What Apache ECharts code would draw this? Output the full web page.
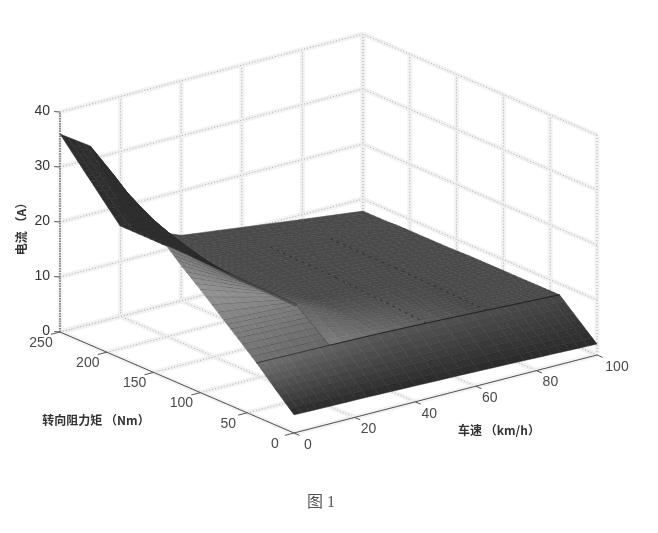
<!DOCTYPE html>
<html><head><meta charset="utf-8">
<style>html,body{margin:0;padding:0;background:#fff}#c{width:658px;height:533px}</style>
<script src="https://cdn.jsdelivr.net/npm/echarts@6/dist/echarts.min.js"></script>
</head><body><div id="c"></div>
<script>
// Data
const speedTicks = [0,20,40,60,80,100];
const torqueTicks = [0,50,100,150,200,250];
const currentTicks = [0,10,20,30,40];
const speeds  = [0,10,24,40,56,76,88,100];
const torques = [0,20,40,60,75,100,120,136,160,186,211,225,250];
const current = [
 [ 3.3, 3.2, 3.1, 2.9, 2.7, 2.4, 2.2, 2.0],
 [ 6.5, 6.5, 6.3, 6.1, 5.9, 5.5, 5.2, 5.0],
 [ 9.8, 9.7, 9.6, 9.4, 9.1, 8.6, 8.3, 8.0],
 [12.8,12.6,12.3,10.0, 9.4, 8.8, 8.4, 8.0],
 [15.0,14.7,14.3,10.4, 9.6, 8.9, 8.5, 8.0],
 [18.7,16.9,14.4,10.6, 9.9, 9.0, 8.5, 8.0],
 [21.5,18.6,14.5,10.9,10.1, 9.0, 8.5, 8.0],
 [24.0,20.1,14.6,11.0,10.3, 9.1, 8.5, 8.0],
 [24.0,22.3,14.8,11.2,10.5, 9.2, 8.6, 7.9],
 [24.0,24.2,15.1,11.4,10.6, 9.2, 8.6, 7.9],
 [28.7,26.9,15.4,11.7,10.7, 9.3, 8.6, 7.9],
 [31.3,29.0,15.4,11.8,10.75,9.3, 8.6, 7.8],
 [36.0,32.4,15.5,11.9,10.8, 9.4, 8.6, 7.8]
];
const speedTitle='车速 （km/h）', torqueTitle='转向阻力矩 （Nm）', currentTitle='电流 （A）', caption='图 1';

// Orthographic view of the 3D box
const proj=(v,t,z)=>[294+3.03*v-0.936*t, 433-0.78*v-0.404*t-5.5*z];
const clamp=x=>Math.max(0,Math.min(1,x));
function grey(v,t){
  let g;
  if(t<40) g=42+(t/40)*(58-30*clamp(v/100)+14*clamp(1-v/40));
  else if(v<24&&t<=136){
    g=t<100?112+(t-40)/60*36:148-(t-100)/36*28;
    g-=clamp(v/24)*10;
  } else if(v<24&&t>136) g=46;
  else g=74+52*clamp(1-(v-24)/50)*clamp(1-(t-40)/70);
  g=Math.round(g);return `rgb(${g},${g},${g})`;
}
const cells=[];
for(let j=torques.length-2;j>=0;j--)for(let i=speeds.length-2;i>=0;i--)cells.push([i,j]);
const SUB=4;
function renderCell(p,api){
  const i=api.value(0),j=api.value(1),kids=[];
  const v0=speeds[i],v1=speeds[i+1],t0=torques[j],t1=torques[j+1];
  const z00=current[j][i],z10=current[j][i+1],z01=current[j+1][i],z11=current[j+1][i+1];
  const pt=(a,b)=>{const z=(1-a)*(1-b)*z00+a*(1-b)*z10+(1-a)*b*z01+a*b*z11;
    return api.coord(proj(v0+a*(v1-v0),t0+b*(t1-t0),z));};
  const inFan=v0<24&&t0>=40&&t0<136;
  for(let b=SUB-1;b>=0;b--)for(let a=SUB-1;a>=0;a--){
    const A=a/SUB,B=b/SUB,d=1/SUB;
    const col=grey(v0+(A+d/2)*(v1-v0),t0+(B+d/2)*(t1-t0));
    kids.push({type:'polygon',shape:{points:[pt(A,B),pt(A+d,B),pt(A+d,B+d),pt(A,B+d)]},
      style:{fill:col,stroke:col,lineWidth:0.5}});
    kids.push({type:'line',shape:{x1:pt(A,B)[0],y1:pt(A,B)[1],x2:pt(A+d,B)[0],y2:pt(A+d,B)[1]},
      style:{stroke:inFan?'rgba(0,0,0,0.5)':'rgba(0,0,0,0.16)',lineWidth:inFan?0.9:0.6}});
  }
  return {type:'group',children:kids};
}
// box lines
const gridSegs=[], axisSegs=[];
speedTicks.forEach(v=>{
  gridSegs.push([v,250,0,v,250,40]);
  gridSegs.push([v,0,0,v,250,0]);
});
torqueTicks.forEach(t=>{
  gridSegs.push([100,t,0,100,t,40]);
  gridSegs.push([0,t,0,100,t,0]);
});
currentTicks.forEach(z=>{
  gridSegs.push([0,250,z,100,250,z]);
  gridSegs.push([100,0,z,100,250,z]);
});
axisSegs.push([0,0,0,0,250,0],[0,0,0,100,0,0]);
speedTicks.forEach(v=>axisSegs.push([v,0,0,v,-6,0]));
torqueTicks.forEach(t=>axisSegs.push([0,t,0,-3,t,0]));
currentTicks.forEach(z=>axisSegs.push([0,250,z,-1,253,z]));
function segRender(style,halo){
  return (p,api)=>{
    const a=api.coord(proj(api.value(0),api.value(1),api.value(2)));
    const b=api.coord(proj(api.value(3),api.value(4),api.value(5)));
    const shape={x1:a[0],y1:a[1],x2:b[0],y2:b[1]};
    const kids=[{type:'line',shape,style}];
    if(halo) kids.unshift({type:'line',shape,style:{stroke:'#efefef',lineWidth:5,opacity:.8}});
    return {type:'group',children:kids};
  };
}
const txt=(text,x,y,font,fill,align,rot)=>({text,x,y,font,fill,align,rot});
const labels=[];
const tickFont='14px "Liberation Sans"', titleFont='bold 12px "Noto Sans CJK SC"';
speedTicks.forEach(v=>{const q=proj(v,0,0);labels.push(txt(String(v),q[0]+(v===100?20:14),q[1]+12,tickFont,'#4a4a4a','center',0));});
torqueTicks.forEach(t=>{const q=proj(0,t,0);labels.push(txt(String(t),q[0]-19,q[1]+11,tickFont,'#4a4a4a','center',0));});
currentTicks.forEach(z=>{const q=proj(0,250,z);labels.push(txt(String(z),q[0]-10,q[1]-1,tickFont,'#333','right',0));});
labels.push(txt(speedTitle,499,430,titleFont,'#333','center',0));
labels.push(txt(torqueTitle,96,420,titleFont,'#333','center',0));
labels.push(txt(currentTitle,21,226,titleFont,'#333','center',Math.PI/2));
labels.push(txt(caption,321,503,'16px "Liberation Serif","Noto Sans CJK SC"','#555','center',0));

const chart=echarts.init(document.getElementById('c'),null,{renderer:'canvas'});
chart.setOption({
  animation:false,backgroundColor:'#fff',
  grid:{left:0,right:0,top:0,bottom:0},
  xAxis:{type:'value',min:0,max:658,show:false},
  yAxis:{type:'value',min:0,max:533,inverse:true,show:false},
  series:[
   {type:'custom',silent:true,clip:false,data:gridSegs,encode:{x:0,y:1},
    renderItem:segRender({stroke:'#999',lineWidth:0.8,lineDash:[1,2]},true)},
   {type:'custom',silent:true,clip:false,data:[[0,250,0,0,250,40]],encode:{x:0,y:1},
    renderItem:segRender({stroke:'#333',lineWidth:1,lineDash:[1.5,1]},false)},
   {type:'custom',silent:true,clip:false,data:axisSegs,encode:{x:0,y:1},
    renderItem:segRender({stroke:'#555',lineWidth:1},false)},
   {type:'custom',silent:true,clip:false,data:cells,encode:{x:0,y:1},renderItem:renderCell},
   // creases of the mesh
   {type:'custom',silent:true,clip:false,
    data:[[0,40,9.8,10,40,9.7],[10,40,9.7,24,40,9.6]],
    encode:{x:0,y:1},renderItem:segRender({stroke:'rgba(30,30,30,0.55)',lineWidth:1},false)},
   {type:'custom',silent:true,clip:false,
    data:[[24,40,9.6,40,40,9.4],[40,40,9.4,56,40,9.1],[56,40,9.1,76,40,8.6],[76,40,8.6,88,40,8.3],[88,40,8.3,100,40,8.0]],
    encode:{x:0,y:1},renderItem:segRender({stroke:'rgba(25,25,25,0.85)',lineWidth:1},false)},
   {type:'custom',silent:true,clip:false,
    data:[[24,75,14.3,24,100,14.4],[24,100,14.4,24,136,14.6],[24,136,14.6,24,186,15.1]],
    encode:{x:0,y:1},renderItem:segRender({stroke:'rgba(35,35,35,0.42)',lineWidth:3},false)},
   {type:'custom',silent:true,clip:false,
    data:[[24,40,9.6,24,60,12.3],[24,60,12.3,24,75,14.3]],
    encode:{x:0,y:1},renderItem:segRender({stroke:'rgba(60,60,60,0.6)',lineWidth:1},false)},
   {type:'custom',silent:true,clip:false,
    data:[[56,40,9.1,56,136,10.3],[56,136,10.3,56,211,10.7],[76,40,8.6,76,136,9.1],[76,136,9.1,76,211,9.3]],
    encode:{x:0,y:1},renderItem:segRender({stroke:'#2a2a2a',lineWidth:0.9,lineDash:[3,4]},false)},
   {type:'custom',silent:true,clip:false,data:labels.map((l,i)=>[l.x,l.y,i]),encode:{x:0,y:1},
    renderItem:(p,api)=>{const l=labels[api.value(2)],c=api.coord([l.x,l.y]);
      return {type:'text',x:c[0],y:c[1],rotation:l.rot,
        style:{text:l.text,font:l.font,fill:l.fill,align:l.align,verticalAlign:'middle'}};}}
  ]
});
</script></body></html>
